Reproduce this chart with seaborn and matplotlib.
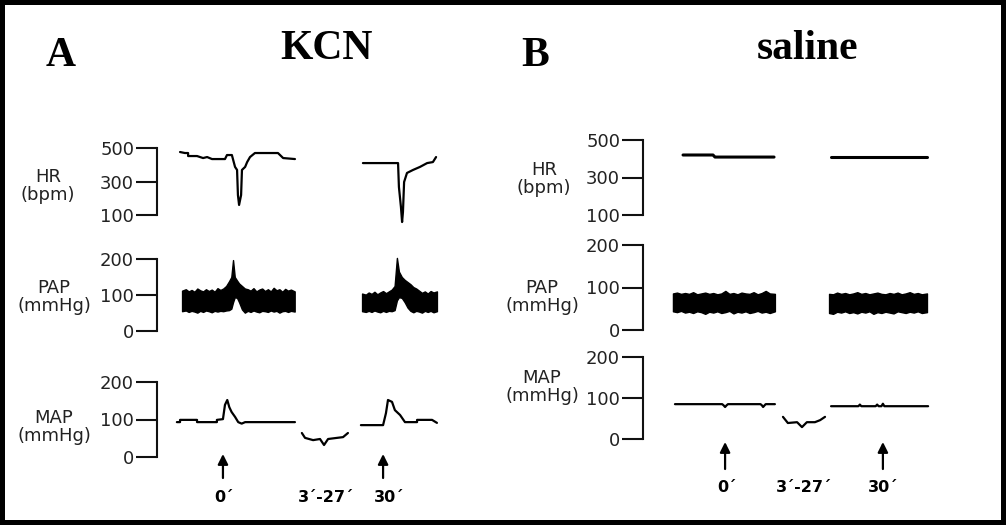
import numpy as np
import matplotlib
matplotlib.use('Agg')
import matplotlib.pyplot as plt
import matplotlib.transforms as mtransforms
import seaborn as sns

sns.set_style('white')
plt.rcParams['font.family'] = ['DejaVu Sans']

# ---- panel A (KCN) traces: time in arbitrary panel units (0-100) ----
a_hr_t1 = [8.0, 9.7, 10.8, 10.8, 13.9, 16.0, 17.4, 19.1, 23.6, 24.3, 26.0, 27.1, 27.8, 28.1, 28.5,
           29.2, 29.5, 30.6, 31.3, 32.3, 34.0, 42.0, 43.8, 47.9]
a_hr_v1 = [476, 470, 470, 452, 452, 440, 446, 434, 434, 458, 458, 387, 369, 219, 160,
           219, 369, 387, 416, 446, 470, 470, 440, 434]
a_hr_t2 = [71.5, 83.7, 84.0, 84.7, 85.1, 85.4, 85.8, 86.8, 88.9, 91.3, 93.8, 95.8, 96.9]
a_hr_v2 = [410, 410, 267, 148, 58, 118, 297, 351, 369, 387, 410, 416, 446]

a_pap_t1 = [8.7, 10, 11, 12, 13, 14, 15, 16, 17, 18, 19, 20, 21, 22, 23, 24, 25, 25.8, 26.4, 27,
            27.8, 28.5, 29.5, 30.5, 31.5, 32.5, 33.5, 34.5, 35.5, 36.5, 37.5, 38.5, 39.5, 40.5,
            41.5, 42.5, 43.5, 44.5, 45.5, 46.5, 47.8]
a_pap_hi1 = [112, 116, 110, 114, 109, 118, 113, 110, 116, 111, 115, 109, 119, 114, 118, 125, 138,
             150, 197, 150, 140, 132, 125, 118, 116, 112, 119, 110, 115, 118, 111, 116, 110, 120,
             113, 116, 109, 117, 112, 115, 110]
a_pap_lo1 = [55, 57, 53, 56, 54, 51, 56, 53, 57, 55, 52, 56, 54, 56, 55, 57, 58, 62, 80, 94, 92,
             80, 60, 51, 56, 53, 57, 54, 52, 56, 55, 53, 57, 54, 56, 51, 55, 56, 53, 56, 54]
a_pap_t2 = [71.2, 72.5, 73.5, 74.5, 75.5, 76.5, 77.5, 78.5, 79.5, 80.5, 81.5, 82.5, 83.3, 84, 85,
            86, 87, 88, 89, 90, 91, 92, 93, 94, 95, 96, 97.2]
a_pap_hi2 = [104, 101, 107, 103, 109, 102, 107, 111, 105, 110, 115, 125, 203, 165, 150, 142, 136,
             130, 122, 118, 112, 106, 110, 104, 111, 107, 110]
a_pap_lo2 = [55, 53, 56, 53, 57, 54, 52, 56, 53, 56, 55, 58, 85, 94, 92, 80, 65, 56, 52, 56, 54,
             51, 56, 53, 56, 52, 55]

a_map_t1 = [6.9, 8.0, 8.0, 13.9, 13.9, 20.8, 20.8, 22.9, 23.6, 24.4, 25.1, 25.9, 27.1, 28.2,
            29.4, 30.6, 47.9]
a_map_v1 = [93, 93, 99, 99, 93, 93, 99, 101, 139, 152, 133, 120, 107, 93, 89, 93, 93]
a_map_t2 = [50.3, 51.4, 54.2, 56.6, 58.0, 59.4, 62.5, 64.6, 66.3]
a_map_v2 = [64, 51, 45, 48, 32, 48, 51, 53, 64]
a_map_t3 = [70.8, 78.5, 79.5, 80.2, 81.6, 82.6, 84.4, 86.1, 90.3, 90.3, 95.5, 97.2]
a_map_v3 = [85, 85, 117, 152, 147, 125, 112, 93, 93, 99, 99, 91]

# ---- panel B (saline) traces ----
b_hr_t1 = [13.9, 24.3, 25.0, 45.5]
b_hr_v1 = [420, 420, 409, 409]
b_hr_t2 = [65.3, 98.6]
b_hr_v2 = [409, 409]

b_pap_t1 = [10.4, 11.8, 13.2, 14.6, 16.0, 17.4, 18.8, 20.2, 21.6, 23.0, 24.4, 25.8, 27.2, 28.6,
            30.0, 31.4, 32.8, 34.2, 35.6, 37.0, 38.4, 39.8, 41.2, 42.6, 44.0, 45.8]
b_pap_hi1 = [86, 88, 85, 87, 85, 89, 84, 86, 88, 85, 87, 84, 86, 92, 85, 87, 84, 88, 86, 85, 89,
             84, 87, 92, 86, 85]
b_pap_lo1 = [44, 42, 45, 41, 43, 40, 44, 42, 38, 43, 41, 44, 40, 42, 45, 39, 43, 41, 44, 40, 42,
             45, 41, 43, 40, 44]
b_pap_t2 = [64.6, 66.0, 67.4, 68.8, 70.2, 71.6, 73.0, 74.4, 75.8, 77.2, 78.6, 80.0, 81.4, 82.8,
            84.2, 85.6, 87.0, 88.4, 89.8, 91.2, 92.6, 94.0, 95.4, 96.8, 98.6]
b_pap_hi2 = [85, 84, 88, 85, 87, 84, 86, 89, 85, 87, 84, 86, 88, 85, 84, 87, 85, 88, 84, 86, 89,
             85, 87, 84, 86]
b_pap_lo2 = [40, 38, 43, 41, 44, 40, 42, 39, 43, 41, 44, 38, 42, 40, 43, 41, 39, 44, 42, 40, 43,
             41, 44, 40, 42]

b_map_t1 = [11.1, 27.5, 28.0, 28.5, 29.0, 29.5, 40.8, 41.3, 41.7, 42.2, 42.6, 45.8]
b_map_v1 = [85, 85, 82, 78, 82, 85, 85, 82, 78, 82, 85, 85]
b_map_t2 = [48.6, 50.3, 53.5, 55.2, 56.9, 59.7, 61.5, 63.2]
b_map_v2 = [54, 39, 41, 29, 41, 41, 46, 54]
b_map_t3 = [65.3, 74.8, 75.3, 75.8, 80.8, 81.3, 81.8, 82.8, 83.3, 83.8, 99.0]
b_map_v3 = [80, 80, 84, 80, 80, 84, 80, 80, 86, 80, 80]

hr_ticks = [100, 300, 500]
pressure_ticks = [0, 100, 200]
row_labels = ['HR\n(bpm)', 'PAP\n(mmHg)', 'MAP\n(mmHg)']
time_labels = ['0´', '3´-27´', '30´']
a_arrow_t = [22.9, 78.5]
a_label_t = [23.3, 58.7, 80.6]
b_arrow_t = [28.5, 83.3]
b_label_t = [29.2, 55.9, 83.3]

W, H = 1006, 525
fig = plt.figure(figsize=(W / 100, H / 100), dpi=100, facecolor='white',
                 edgecolor='black', linewidth=7)


def add_ax(x0, x1, ytop, ybot, ticks, ylim):
    vbot, vtop = ticks[0], ticks[-1]
    ppu = (ybot - ytop) / (vtop - vbot)
    top = ytop - (ylim[1] - vtop) * ppu
    bot = ybot + (vbot - ylim[0]) * ppu
    ax = fig.add_axes([x0 / W, 1 - bot / H, (x1 - x0) / W, (bot - top) / H])
    ax.set_xlim(0, 100)
    ax.set_ylim(*ylim)
    ax.patch.set_visible(False)
    for s in ['top', 'right', 'bottom']:
        ax.spines[s].set_visible(False)
    ax.spines['left'].set_linewidth(1.5)
    ax.spines['left'].set_color('#111111')
    ax.spines['left'].set_bounds(vbot, vtop)
    ax.set_xticks([])
    ax.set_yticks(ticks)
    ax.tick_params(axis='y', left=True, direction='out', length=15, width=1.5, pad=1.5,
                   labelsize=13, labelcolor='#222222', color='#111111')
    return ax


def trace(ax, t, v, lw=1.6):
    sns.lineplot(x=t, y=v, ax=ax, color='black', lw=lw, sort=False,
                 estimator=None, clip_on=False)


def band(ax, t, lo, hi):
    ax.fill_between(t, lo, hi, color='black', lw=1.0, edgecolor='black', clip_on=False)


def marks(ax, arrow_t, label_t, tail, tip, ytext):
    tr = mtransforms.blended_transform_factory(ax.transData, fig.transFigure)
    for t in arrow_t:
        ax.annotate('', xy=(t, 1 - tip / H), xycoords=tr, xytext=(t, 1 - tail / H),
                    textcoords=tr, annotation_clip=False,
                    arrowprops=dict(arrowstyle='-|>', color='black', lw=1.6,
                                    mutation_scale=15, shrinkA=0, shrinkB=0))
    for t, lab in zip(label_t, time_labels):
        ax.text(t, 1 - ytext / H, lab, transform=tr, ha='center', va='center',
                fontsize=11.5, fontweight='bold', color='black')


# panel A
ax = add_ax(157, 445, 148, 215, hr_ticks, (0, 540))
trace(ax, a_hr_t1, a_hr_v1)
trace(ax, a_hr_t2, a_hr_v2)
ax = add_ax(157, 445, 259, 331, pressure_ticks, (-20, 220))
band(ax, a_pap_t1, a_pap_lo1, a_pap_hi1)
band(ax, a_pap_t2, a_pap_lo2, a_pap_hi2)
ax = add_ax(157, 445, 382, 457, pressure_ticks, (-20, 220))
trace(ax, a_map_t1, a_map_v1)
trace(ax, a_map_t2, a_map_v2)
trace(ax, a_map_t3, a_map_v3)
marks(ax, a_arrow_t, a_label_t, 478, 454, 497)

# panel B
ax = add_ax(643, 931, 140, 215, hr_ticks, (0, 540))
trace(ax, b_hr_t1, b_hr_v1, lw=2.2)
trace(ax, b_hr_t2, b_hr_v2, lw=2.2)
ax = add_ax(643, 931, 245, 330, pressure_ticks, (-20, 220))
band(ax, b_pap_t1, b_pap_lo1, b_pap_hi1)
band(ax, b_pap_t2, b_pap_lo2, b_pap_hi2)
ax = add_ax(643, 931, 357, 439, pressure_ticks, (-20, 220))
trace(ax, b_map_t1, b_map_v1)
trace(ax, b_map_t2, b_map_v2)
trace(ax, b_map_t3, b_map_v3)
marks(ax, b_arrow_t, b_label_t, 469, 442, 487)

# row labels
for (x, y), lab in zip([(48, 186), (54, 297), (54, 427)], row_labels):
    fig.text(x / W, 1 - y / H, lab, ha='center', va='center', fontsize=13,
             color='#222222', linespacing=1.05)
for (x, y), lab in zip([(544, 179), (542, 297), (542, 387)], row_labels):
    fig.text(x / W, 1 - y / H, lab, ha='center', va='center', fontsize=13,
             color='#222222', linespacing=1.05)

# panel titles
title_font = dict(family='Liberation Serif', fontweight='bold', fontsize=30,
                  ha='center', va='center', color='black')
fig.text(61 / W, 1 - 56 / H, 'A', **title_font)
fig.text(326 / W, 1 - 49 / H, 'KCN', **title_font)
fig.text(535 / W, 1 - 56 / H, 'B', **title_font)
fig.text(808 / W, 1 - 49 / H, 'saline', **title_font)

fig.savefig('out.png', dpi=100)
